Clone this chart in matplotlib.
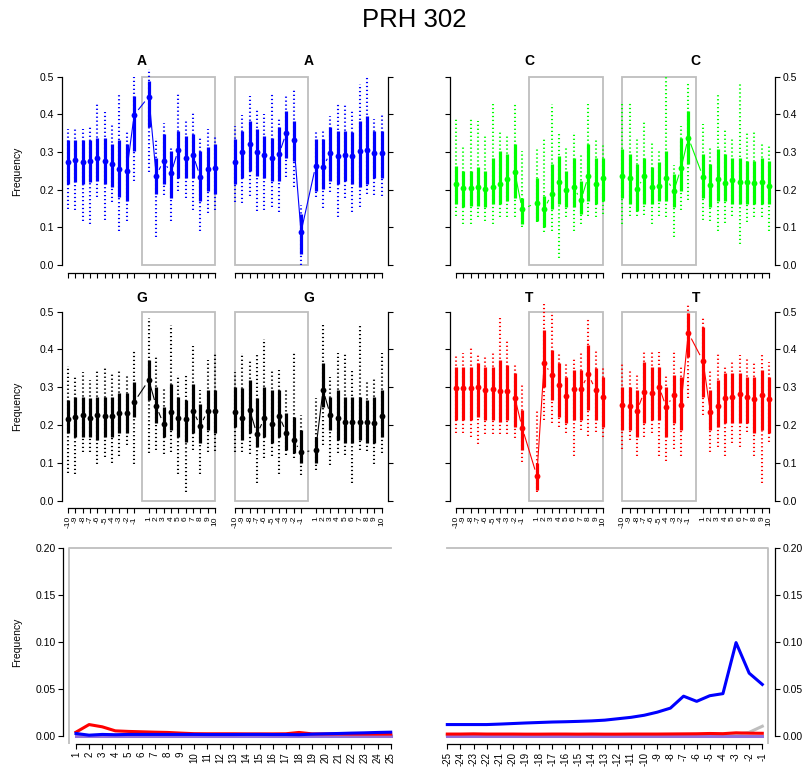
import numpy as np
import matplotlib
matplotlib.use('Agg')
import matplotlib.pyplot as plt
from matplotlib.patches import Rectangle

plt.rcParams['font.family'] = ['Liberation Sans', 'DejaVu Sans']

# positions around the read ends (-10..-1 outside, 1..10 inside)
pos_labels = [str(i) for i in range(-10, 0)] + [str(i) for i in range(1, 11)]
xpos = list(range(0, 10)) + list(range(11, 21))

# A, 5' end
A5_med = [0.272, 0.279, 0.274, 0.276, 0.284, 0.277, 0.267, 0.254, 0.250, 0.398,
          0.447, 0.237, 0.277, 0.243, 0.305, 0.285, 0.292, 0.234, 0.254, 0.256]
A5_q1 = [0.215, 0.219, 0.215, 0.219, 0.223, 0.215, 0.206, 0.180, 0.170, 0.303,
         0.365, 0.188, 0.215, 0.179, 0.232, 0.232, 0.232, 0.170, 0.197, 0.188]
A5_q3 = [0.331, 0.331, 0.331, 0.331, 0.338, 0.336, 0.320, 0.331, 0.320, 0.449,
         0.489, 0.285, 0.347, 0.303, 0.356, 0.343, 0.347, 0.303, 0.312, 0.320]
A5_min = [0.148, 0.146, 0.116, 0.110, 0.181, 0.120, 0.166, 0.091, 0.116, 0.222,
          0.246, 0.073, 0.186, 0.116, 0.197, 0.179, 0.146, 0.091, 0.137, 0.147]
A5_max = [0.360, 0.367, 0.360, 0.365, 0.428, 0.406, 0.375, 0.453, 0.356, 0.500,
          0.520, 0.338, 0.378, 0.316, 0.455, 0.383, 0.406, 0.340, 0.362, 0.343]

# A, 3' end
A3_med = [0.274, 0.299, 0.321, 0.299, 0.292, 0.284, 0.294, 0.351, 0.331, 0.087,
          0.263, 0.261, 0.297, 0.290, 0.293, 0.288, 0.303, 0.306, 0.297, 0.297]
A3_q1 = [0.215, 0.232, 0.250, 0.237, 0.232, 0.224, 0.224, 0.285, 0.276, 0.030,
         0.197, 0.201, 0.224, 0.215, 0.224, 0.215, 0.206, 0.215, 0.232, 0.232]
A3_q3 = [0.334, 0.356, 0.383, 0.360, 0.343, 0.338, 0.365, 0.409, 0.383, 0.135,
         0.334, 0.334, 0.365, 0.356, 0.356, 0.352, 0.383, 0.396, 0.356, 0.356]
A3_min = [0.166, 0.164, 0.184, 0.144, 0.146, 0.153, 0.141, 0.234, 0.208, 0.000,
          0.181, 0.151, 0.193, 0.128, 0.179, 0.141, 0.155, 0.188, 0.186, 0.182]
A3_max = [0.369, 0.398, 0.449, 0.413, 0.400, 0.453, 0.393, 0.449, 0.464, 0.160,
          0.352, 0.358, 0.396, 0.428, 0.428, 0.409, 0.480, 0.502, 0.387, 0.398]

# C, 5' end
C5_med = [0.216, 0.203, 0.203, 0.206, 0.201, 0.206, 0.216, 0.229, 0.246, 0.148,
          0.165, 0.148, 0.188, 0.219, 0.199, 0.206, 0.172, 0.236, 0.215, 0.231]
C5_q1 = [0.162, 0.153, 0.157, 0.157, 0.153, 0.162, 0.162, 0.170, 0.179, 0.109,
         0.117, 0.100, 0.148, 0.162, 0.153, 0.153, 0.135, 0.170, 0.162, 0.170]
C5_q3 = [0.263, 0.250, 0.250, 0.259, 0.250, 0.285, 0.303, 0.294, 0.321, 0.179,
         0.232, 0.184, 0.268, 0.290, 0.250, 0.285, 0.224, 0.321, 0.285, 0.285]
C5_min = [0.129, 0.109, 0.109, 0.126, 0.117, 0.109, 0.126, 0.126, 0.126, 0.102,
          0.113, 0.087, 0.091, 0.018, 0.126, 0.091, 0.109, 0.131, 0.126, 0.135]
C5_max = [0.391, 0.318, 0.390, 0.381, 0.345, 0.428, 0.356, 0.345, 0.428, 0.303,
          0.314, 0.334, 0.428, 0.354, 0.312, 0.354, 0.292, 0.428, 0.334, 0.322]

# C, 3' end
C3_med = [0.235, 0.231, 0.202, 0.235, 0.208, 0.209, 0.231, 0.195, 0.256, 0.338,
          0.234, 0.212, 0.228, 0.217, 0.226, 0.221, 0.221, 0.217, 0.219, 0.210]
C3_q1 = [0.179, 0.162, 0.144, 0.162, 0.162, 0.170, 0.170, 0.153, 0.197, 0.268,
         0.179, 0.153, 0.170, 0.170, 0.162, 0.162, 0.162, 0.162, 0.162, 0.162]
C3_q3 = [0.307, 0.294, 0.268, 0.285, 0.259, 0.272, 0.303, 0.241, 0.338, 0.409,
         0.294, 0.268, 0.307, 0.294, 0.285, 0.285, 0.276, 0.276, 0.285, 0.276]
C3_min = [0.110, 0.131, 0.129, 0.133, 0.110, 0.129, 0.126, 0.073, 0.146, 0.173,
          0.119, 0.117, 0.091, 0.111, 0.131, 0.056, 0.113, 0.126, 0.126, 0.091]
C3_max = [0.429, 0.429, 0.334, 0.383, 0.325, 0.303, 0.502, 0.266, 0.369, 0.482,
          0.374, 0.316, 0.453, 0.360, 0.334, 0.480, 0.354, 0.352, 0.325, 0.316]

# G, 5' end
G5_med = [0.217, 0.222, 0.227, 0.220, 0.227, 0.224, 0.225, 0.231, 0.231, 0.261,
          0.319, 0.250, 0.203, 0.234, 0.218, 0.215, 0.238, 0.198, 0.238, 0.238]
G5_q1 = [0.178, 0.169, 0.169, 0.169, 0.160, 0.169, 0.169, 0.178, 0.178, 0.222,
         0.266, 0.205, 0.169, 0.187, 0.169, 0.156, 0.178, 0.152, 0.187, 0.178]
G5_q3 = [0.266, 0.275, 0.275, 0.271, 0.275, 0.275, 0.275, 0.284, 0.284, 0.315,
         0.372, 0.302, 0.249, 0.310, 0.275, 0.266, 0.310, 0.257, 0.293, 0.293]
G5_min = [0.073, 0.072, 0.130, 0.128, 0.097, 0.116, 0.099, 0.119, 0.147, 0.097,
          0.125, 0.134, 0.123, 0.130, 0.072, 0.024, 0.134, 0.071, 0.130, 0.131]
G5_max = [0.355, 0.330, 0.341, 0.319, 0.346, 0.352, 0.337, 0.348, 0.332, 0.399,
          0.482, 0.384, 0.302, 0.465, 0.332, 0.332, 0.409, 0.293, 0.372, 0.390]

# G, 3' end
G3_med = [0.235, 0.220, 0.240, 0.176, 0.218, 0.202, 0.225, 0.180, 0.160, 0.128,
          0.134, 0.293, 0.227, 0.220, 0.209, 0.209, 0.209, 0.209, 0.206, 0.225]
G3_q1 = [0.196, 0.160, 0.178, 0.143, 0.169, 0.152, 0.169, 0.134, 0.125, 0.099,
         0.099, 0.249, 0.187, 0.160, 0.152, 0.152, 0.160, 0.152, 0.152, 0.169]
G3_q3 = [0.302, 0.297, 0.319, 0.271, 0.302, 0.293, 0.293, 0.231, 0.222, 0.187,
         0.169, 0.363, 0.275, 0.293, 0.275, 0.275, 0.275, 0.266, 0.275, 0.293]
G3_min = [0.128, 0.130, 0.123, 0.048, 0.112, 0.119, 0.072, 0.121, 0.112, 0.068,
          0.081, 0.147, 0.094, 0.125, 0.121, 0.048, 0.134, 0.131, 0.097, 0.125]
G3_max = [0.341, 0.392, 0.372, 0.392, 0.427, 0.346, 0.346, 0.299, 0.392, 0.228,
          0.271, 0.465, 0.326, 0.392, 0.392, 0.343, 0.465, 0.319, 0.324, 0.392]

# T, 5' end
T5_med = [0.297, 0.297, 0.297, 0.300, 0.293, 0.295, 0.291, 0.291, 0.273, 0.193,
          0.066, 0.365, 0.332, 0.306, 0.277, 0.295, 0.296, 0.334, 0.293, 0.275]
T5_q1 = [0.213, 0.213, 0.213, 0.222, 0.213, 0.213, 0.209, 0.213, 0.196, 0.134,
         0.028, 0.302, 0.266, 0.222, 0.205, 0.213, 0.213, 0.240, 0.213, 0.196]
T5_q3 = [0.354, 0.354, 0.354, 0.363, 0.354, 0.354, 0.372, 0.359, 0.337, 0.240,
         0.099, 0.451, 0.399, 0.363, 0.328, 0.346, 0.346, 0.412, 0.350, 0.328]
T5_min = [0.180, 0.178, 0.169, 0.150, 0.176, 0.176, 0.176, 0.176, 0.165, 0.103,
          0.022, 0.213, 0.205, 0.194, 0.180, 0.119, 0.187, 0.172, 0.183, 0.169]
T5_max = [0.383, 0.392, 0.407, 0.392, 0.383, 0.392, 0.482, 0.427, 0.362, 0.306,
          0.243, 0.520, 0.500, 0.387, 0.362, 0.377, 0.396, 0.482, 0.396, 0.354]

# T, 3' end
T3_med = [0.253, 0.251, 0.238, 0.288, 0.284, 0.302, 0.247, 0.280, 0.253, 0.444,
          0.370, 0.235, 0.250, 0.273, 0.275, 0.281, 0.275, 0.268, 0.280, 0.268]
T3_q1 = [0.187, 0.187, 0.169, 0.205, 0.213, 0.213, 0.169, 0.205, 0.187, 0.381,
         0.275, 0.187, 0.196, 0.205, 0.205, 0.205, 0.205, 0.178, 0.187, 0.178]
T3_q3 = [0.302, 0.302, 0.293, 0.368, 0.354, 0.354, 0.302, 0.332, 0.328, 0.496,
         0.460, 0.293, 0.319, 0.337, 0.337, 0.337, 0.328, 0.328, 0.346, 0.328]
T3_min = [0.136, 0.160, 0.119, 0.169, 0.178, 0.119, 0.106, 0.138, 0.119, 0.271,
          0.227, 0.130, 0.143, 0.119, 0.152, 0.141, 0.183, 0.119, 0.046, 0.156]
T3_max = [0.362, 0.346, 0.339, 0.396, 0.394, 0.394, 0.330, 0.399, 0.354, 0.522,
          0.482, 0.346, 0.392, 0.356, 0.369, 0.385, 0.377, 0.363, 0.390, 0.368]

# misincorporation frequencies, bottom row
pos5 = list(range(1, 26))
pos3 = list(range(-25, 0))
ct5 = [0.0042, 0.0123, 0.0099, 0.0056, 0.0050, 0.0046, 0.0042, 0.0039, 0.0032, 0.0026,
       0.0025, 0.0025, 0.0025, 0.0024, 0.0024, 0.0024, 0.0025, 0.0039, 0.0024, 0.0023,
       0.0023, 0.0022, 0.0022, 0.0022, 0.0022]
ga5 = [0.0028, 0.0010, 0.0018, 0.0015, 0.0018, 0.0018, 0.0018, 0.0018, 0.0018, 0.0018,
       0.0017, 0.0017, 0.0017, 0.0018, 0.0018, 0.0017, 0.0017, 0.0015, 0.0021, 0.0025,
       0.0028, 0.0032, 0.0035, 0.0039, 0.0042]
oth5 = [0.0010] * 25
ins5 = [0.0003] * 25
ct3 = [0.0022, 0.0022, 0.0024, 0.0022, 0.0022, 0.0022, 0.0021, 0.0021, 0.0022, 0.0022,
       0.0021, 0.0022, 0.0021, 0.0021, 0.0022, 0.0022, 0.0022, 0.0023, 0.0024, 0.0025,
       0.0028, 0.0026, 0.0035, 0.0031, 0.0030]
ga3 = [0.0123, 0.0123, 0.0123, 0.0123, 0.0128, 0.0134, 0.0140, 0.0145, 0.0150, 0.0153,
       0.0157, 0.0162, 0.0170, 0.0185, 0.0200, 0.0222, 0.0255, 0.0298, 0.0425, 0.0370,
       0.0430, 0.0452, 0.0995, 0.0670, 0.0550]
oth3 = [0.0010, 0.0010, 0.0010, 0.0010, 0.0010, 0.0010, 0.0010, 0.0010, 0.0010, 0.0010,
        0.0010, 0.0010, 0.0010, 0.0010, 0.0010, 0.0010, 0.0010, 0.0010, 0.0011, 0.0012,
        0.0013, 0.0015, 0.0020, 0.0040, 0.0105]
ins3 = [0.0003] * 25

W, H = 812, 778
fig = plt.figure(figsize=(W / 100, H / 100), dpi=100)
grey = '#BEBEBE'


def px_axes(x0, x1, top, bottom):
    return fig.add_axes([x0 / W, 1 - bottom / H, (x1 - x0) / W, (bottom - top) / H])


def type_b(ax, x, y, col, gap=7.0):
    # R type="b": lines stop short of the points
    pts = ax.transData.transform(np.column_stack([x, y]))
    inv = ax.transData.inverted()
    for (x0, y0), (x1, y1) in zip(pts[:-1], pts[1:]):
        d = np.hypot(x1 - x0, y1 - y0)
        if d <= 2 * gap:
            continue
        ux, uy = (x1 - x0) / d, (y1 - y0) / d
        seg = inv.transform([(x0 + ux * gap, y0 + uy * gap), (x1 - ux * gap, y1 - uy * gap)])
        ax.plot(seg[:, 0], seg[:, 1], color=col, lw=0.8)


def style(ax, side, labels, xlabels):
    for s in ['top', 'left', 'right']:
        ax.spines[s].set_visible(False)
    ax.spines[side].set_visible(True)
    ax.spines[side].set_linewidth(0.9)
    ax.spines['bottom'].set_linewidth(0.9)
    if side == 'right':
        ax.yaxis.tick_right()
    ax.tick_params(axis='both', length=3.6, width=0.8, labelsize=7.5, pad=2,
                   left=(side == 'left'), right=(side == 'right'),
                   labelleft=(side == 'left' and labels), labelright=(side == 'right' and labels))
    ax.tick_params(axis='x', labelbottom=xlabels, labelrotation=90, labelsize=6, pad=2)


def panel(ax, med, q1, q3, lo, hi, col, box_x, title, side, labels, xlabels, tpad):
    ax.set_xlim(-0.8, 20.8)
    ax.set_ylim(-0.02, 0.52)
    ax.add_patch(Rectangle((box_x, 0), 10, 0.5, fill=False, ec=grey, lw=1.3))
    dots = ax.vlines(xpos, lo, hi, colors=col, lw=1.5, linestyles=(0, (0.6, 1.3)))
    dots.set_capstyle('butt')
    ax.vlines(xpos, q1, q3, colors=col, lw=2.3)
    type_b(ax, xpos, med, col)
    ax.plot(xpos, med, 'o', color=col, ms=4.2, mew=0)
    ax.set_yticks([0, 0.1, 0.2, 0.3, 0.4, 0.5])
    ax.set_yticklabels(['0.0', '0.1', '0.2', '0.3', '0.4', '0.5'])
    ax.set_xticks(xpos)
    ax.set_xticklabels(pos_labels)
    ax.spines['left'].set_bounds(0, 0.5)
    ax.spines['right'].set_bounds(0, 0.5)
    ax.spines['bottom'].set_bounds(0, 20)
    style(ax, side, labels, xlabels)
    ax.text(0.5, 1 + tpad, title, transform=ax.transAxes, ha='center', va='center',
            fontsize=10, fontweight='bold')


cols_x = [(62.1, 220.9), (229.1, 387.6), (450.1, 608.9), (616.4, 774.9)]
rows_y = [(69.0, 272.5), (304.1, 508.3)]

row1 = [(A5_med, A5_q1, A5_q3, A5_min, A5_max, '#0000FF', 'A'),
        (A3_med, A3_q1, A3_q3, A3_min, A3_max, '#0000FF', 'A'),
        (C5_med, C5_q1, C5_q3, C5_min, C5_max, '#00FF00', 'C'),
        (C3_med, C3_q1, C3_q3, C3_min, C3_max, '#00FF00', 'C')]
row2 = [(G5_med, G5_q1, G5_q3, G5_min, G5_max, 'black', 'G'),
        (G3_med, G3_q1, G3_q3, G3_min, G3_max, 'black', 'G'),
        (T5_med, T5_q1, T5_q3, T5_min, T5_max, '#FF0000', 'T'),
        (T3_med, T3_q1, T3_q3, T3_min, T3_max, '#FF0000', 'T')]

for r, (rowdata, tpad) in enumerate([(row1, 0.04), (row2, 0.028)]):
    top, bottom = rows_y[r]
    for c, (med, q1, q3, lo, hi, col, name) in enumerate(rowdata):
        ax = px_axes(cols_x[c][0], cols_x[c][1], top, bottom)
        side = 'left' if c % 2 == 0 else 'right'
        labels = c in (0, 3)
        box_x = 10 if c % 2 == 0 else 0
        panel(ax, med, q1, q3, lo, hi, col, box_x, name, side, labels, r == 1, tpad)

# bottom row
axl = px_axes(63.4, 403.3, 540.1, 744.2)
axr = px_axes(434.7, 774.9, 540.1, 744.2)
axl.set_xlim(0.04, 25.96)
axr.set_xlim(-25.96, -0.04)
for ax in (axl, axr):
    ax.set_ylim(-0.0086, 0.2086)
    ax.set_yticks([0, 0.05, 0.10, 0.15, 0.20])
    ax.set_yticklabels(['0.00', '0.05', '0.10', '0.15', '0.20'])
    ax.spines['left'].set_bounds(0, 0.2)
    ax.spines['right'].set_bounds(0, 0.2)

axl.plot([0.5, 0.5, 25], [-0.0086, 0.2, 0.2], color=grey, lw=1.3)
axr.plot([-25, -0.55, -0.55], [0.2, 0.2, -0.0086], color=grey, lw=1.3)

axl.plot(pos5, oth5, color=grey, lw=2.2)
axl.plot(pos5, ins5, color='#9370DB', lw=2.2)
axl.plot(pos5, ct5, color='#FF0000', lw=2.2)
axl.plot(pos5, ga5, color='#0000FF', lw=2.2)
axr.plot(pos3, oth3, color=grey, lw=2.2)
axr.plot(pos3, ins3, color='#9370DB', lw=2.2)
axr.plot(pos3, ct3, color='#FF0000', lw=2.2)
axr.plot(pos3, ga3, color='#0000FF', lw=2.2)

axl.set_xticks(pos5)
axl.set_xticklabels([str(p) for p in pos5])
axl.spines['bottom'].set_bounds(1, 25)
axr.set_xticks(pos3)
axr.set_xticklabels([str(p) for p in pos3])
axr.spines['bottom'].set_bounds(-25, -1)
style(axl, 'left', True, True)
style(axr, 'right', True, True)
axl.tick_params(axis='x', labelsize=7)
axr.tick_params(axis='x', labelsize=7)

for yc in (171.0, 406.0, 642.0):
    fig.text(17.5 / W, 1 - yc / H, 'Frequency', rotation=90, ha='center', va='center', fontsize=7.5)

fig.text(414 / W, 1 - 20 / H, 'PRH 302', ha='center', va='center', fontsize=18.5)

fig.savefig('out.png', dpi=100)
